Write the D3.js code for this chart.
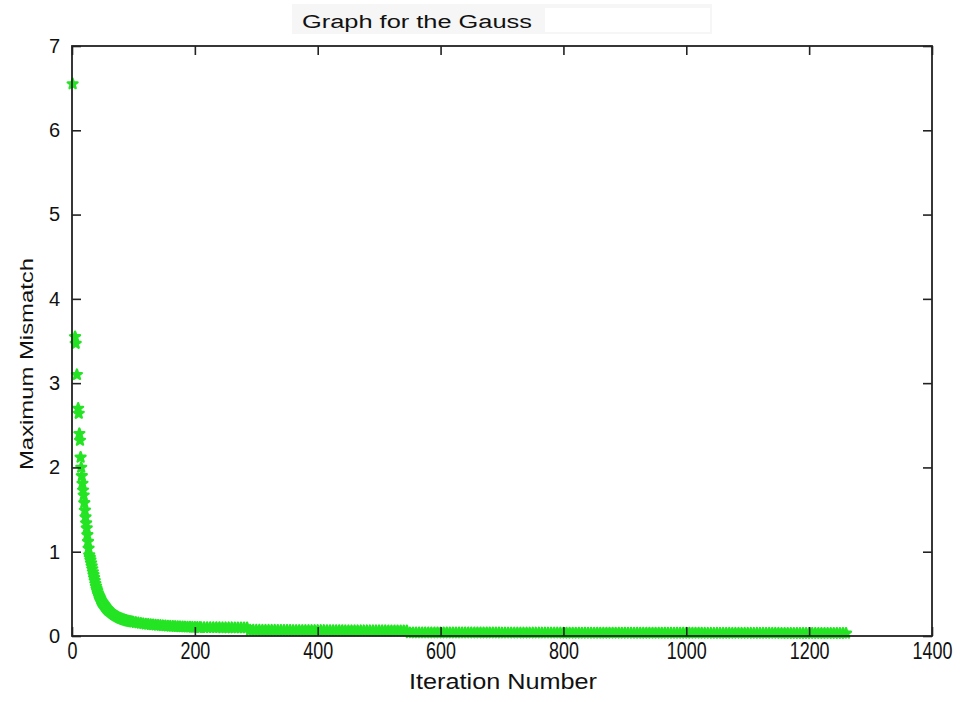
<!DOCTYPE html>
<html>
<head>
<meta charset="utf-8">
<script src="https://cdn.jsdelivr.net/npm/d3@7"></script>
<style>
  html, body { margin: 0; padding: 0; background: #fff; }
  svg text { font-family: "Liberation Sans", Arial, sans-serif; fill: #111; }
</style>
</head>
<body>
<svg id="chart" width="972" height="702"></svg>
<script>
// ---- data ----
const titleText = "Graph for the Gauss";
const xLabel = "Iteration Number";
const yLabel = "Maximum Mismatch";
const xTicks = [0, 200, 400, 600, 800, 1000, 1200, 1400];
const yTicks = [0, 1, 2, 3, 4, 5, 6, 7];

const iterations = [
  1, 5, 6, 8, 10, 11, 12, 13, 14, 15, 16, 17, 18, 19, 20, 21, 22, 23, 24, 25, 26, 27,
  28, 29, 30, 31, 32, 33, 34, 35, 36, 37, 38, 39, 40, 41, 42, 43, 44, 45, 46, 47, 48, 49, 50,
  51, 52, 53, 54, 55, 56, 57, 58, 59, 60,
  62, 64, 66, 68, 70, 72, 74, 76, 78, 80, 82, 84, 86, 88, 90, 92, 94, 96, 98, 100,
  104, 108, 112, 116, 120, 124, 128, 132, 136, 140, 144, 148, 152, 156, 160, 164, 168, 172, 176, 180,
  184, 188, 192, 196, 200, 204, 208,
  210, 215, 220, 225, 230, 235, 240, 245, 250, 255, 260, 265, 270, 275, 280, 285,
  290, 295, 300, 305, 310, 315, 320, 325, 330, 335, 340, 345, 350, 355, 360, 365, 370, 375, 380, 385,
  390, 395, 400, 405, 410, 415, 420, 425, 430, 435, 440, 445, 450, 455, 460, 465, 470, 475, 480, 485,
  490, 495, 500, 505, 510, 515, 520, 525, 530, 535, 540, 545,
  550, 555, 560, 565, 570, 575, 580, 585, 590, 595, 600, 605, 610, 615, 620, 625, 630, 635, 640, 645,
  650, 655, 660, 665, 670, 675, 680, 685, 690, 695, 700, 705, 710, 715, 720, 725, 730, 735, 740, 745,
  750, 755, 760, 765, 770, 775, 780, 785, 790, 795, 800, 805, 810, 815, 820, 825, 830, 835, 840, 845,
  850, 855, 860, 865, 870, 875, 880, 885, 890, 895, 900, 905, 910, 915, 920, 925, 930, 935, 940, 945,
  950, 955, 960, 965, 970, 975, 980, 985, 990, 995, 1000, 1005, 1010, 1015, 1020, 1025, 1030, 1035, 1040, 1045,
  1050, 1055, 1060, 1065, 1070, 1075, 1080, 1085, 1090, 1095, 1100, 1105, 1110, 1115, 1120, 1125, 1130, 1135, 1140, 1145,
  1150, 1155, 1160, 1165, 1170, 1175, 1180, 1185, 1190, 1195, 1200, 1205, 1210, 1215, 1220, 1225, 1230, 1235, 1240, 1245,
  1250, 1255, 1260
];
const mismatch = [
  6.55, 3.55, 3.47, 3.1, 2.7, 2.64, 2.4, 2.32, 2.12, 2.0, 1.9, 1.81, 1.73, 1.67, 1.58, 1.49, 1.41, 1.34, 1.28, 1.2, 1.12, 1.04,
  0.96, 0.93, 0.9, 0.865, 0.83, 0.795, 0.76, 0.725, 0.69, 0.655, 0.62, 0.59, 0.56, 0.535, 0.51, 0.49, 0.475, 0.46, 0.44, 0.425, 0.41, 0.4, 0.39,
  0.38, 0.37, 0.36, 0.35, 0.34, 0.33, 0.322, 0.315, 0.307, 0.3,
  0.288, 0.276, 0.265, 0.255, 0.245, 0.237, 0.228, 0.22, 0.213, 0.207, 0.2, 0.195, 0.19, 0.185, 0.18, 0.177, 0.174, 0.171, 0.168, 0.165,
  0.16, 0.155, 0.15, 0.146, 0.142, 0.139, 0.136, 0.133, 0.13, 0.127, 0.125, 0.122, 0.12, 0.118, 0.116, 0.114, 0.113, 0.111, 0.11, 0.108,
  0.107, 0.106, 0.105, 0.104, 0.103, 0.102, 0.101,
  0.1, 0.1, 0.1, 0.099, 0.099, 0.099, 0.099, 0.098, 0.098, 0.098, 0.098, 0.097, 0.097, 0.097, 0.097, 0.097,
  0.069, 0.069, 0.069, 0.069, 0.068, 0.068, 0.068, 0.068, 0.068, 0.067, 0.067, 0.067, 0.067, 0.067, 0.066, 0.066, 0.066, 0.066, 0.066, 0.065,
  0.065, 0.065, 0.065, 0.065, 0.065, 0.064, 0.064, 0.064, 0.064, 0.064, 0.064, 0.063, 0.063, 0.063, 0.063, 0.063, 0.063, 0.063, 0.062, 0.062,
  0.062, 0.062, 0.062, 0.062, 0.062, 0.061, 0.061, 0.061, 0.061, 0.061, 0.061, 0.061,
  0.038, 0.038, 0.038, 0.038, 0.038, 0.038, 0.038, 0.038, 0.038, 0.038, 0.038, 0.038, 0.037, 0.037, 0.037, 0.037, 0.037, 0.037, 0.037, 0.037,
  0.037, 0.037, 0.037, 0.037, 0.037, 0.037, 0.037, 0.037, 0.037, 0.037, 0.036, 0.036, 0.036, 0.036, 0.036, 0.036, 0.036, 0.036, 0.036, 0.036,
  0.036, 0.036, 0.036, 0.036, 0.036, 0.036, 0.036, 0.036, 0.036, 0.036, 0.035, 0.035, 0.035, 0.035, 0.035, 0.035, 0.035, 0.035, 0.035, 0.035,
  0.035, 0.035, 0.035, 0.035, 0.035, 0.035, 0.035, 0.035, 0.035, 0.035, 0.035, 0.035, 0.034, 0.034, 0.034, 0.034, 0.034, 0.034, 0.034, 0.034,
  0.034, 0.034, 0.034, 0.034, 0.034, 0.034, 0.034, 0.034, 0.034, 0.034, 0.034, 0.034, 0.034, 0.034, 0.034, 0.034, 0.033, 0.033, 0.033, 0.033,
  0.033, 0.033, 0.033, 0.033, 0.033, 0.033, 0.033, 0.033, 0.033, 0.033, 0.033, 0.033, 0.033, 0.033, 0.033, 0.033, 0.033, 0.033, 0.033, 0.033,
  0.033, 0.032, 0.032, 0.032, 0.032, 0.032, 0.032, 0.032, 0.032, 0.032, 0.032, 0.032, 0.032, 0.032, 0.032, 0.032, 0.032, 0.032, 0.032, 0.032,
  0.032, 0.032, 0.032
];

// ---- layout ----
const L = 72, R = 932, T = 46, B = 636;
const svg = d3.select("#chart");

const x = d3.scaleLinear().domain([0, 1400]).range([L, R]);
const y = d3.scaleLinear().domain([0, 7]).range([B, T]);

const pts = iterations.map((it, i) => ({ it, v: mismatch[i] }));

// markers
const star = d3.symbol().type(d3.symbolStar).size(30);
svg.append("g")
  .selectAll("path")
  .data(pts)
  .join("path")
  .attr("d", star)
  .attr("transform", d => `translate(${x(d.it)},${y(d.v)})`)
  .attr("fill", "#24e424")
  .attr("stroke", "#24e424")
  .attr("stroke-width", 2.4)
  .attr("stroke-linejoin", "round");

// axes
const tick = 9;
const gB = svg.append("g").attr("transform", `translate(0,${B})`)
  .call(d3.axisBottom(x).tickValues(xTicks).tickSizeInner(-tick).tickSizeOuter(0).tickPadding(7).tickFormat(d3.format("d")));
const gT = svg.append("g").attr("transform", `translate(0,${T})`)
  .call(d3.axisTop(x).tickValues(xTicks).tickSizeInner(-tick).tickSizeOuter(0).tickFormat(""));
const gL = svg.append("g").attr("transform", `translate(${L},0)`)
  .call(d3.axisLeft(y).tickValues(yTicks).tickSizeInner(-tick).tickSizeOuter(0).tickPadding(12).tickFormat(d3.format("d")));
const gR = svg.append("g").attr("transform", `translate(${R},0)`)
  .call(d3.axisRight(y).tickValues(yTicks).tickSizeInner(-tick).tickSizeOuter(0).tickFormat(""));

[gB, gT, gL, gR].forEach(g => {
  g.select(".domain").remove();
  g.selectAll(".tick line").attr("stroke", "#222").attr("stroke-width", 1.6);
});

gB.selectAll(".tick text")
  .attr("font-size", 23)
  .attr("transform", "scale(0.78,1)")
  .attr("fill", "#111");
gL.selectAll(".tick text")
  .attr("font-size", 20)
  .attr("fill", "#111");

// frame
svg.append("rect")
  .attr("x", L).attr("y", T)
  .attr("width", R - L).attr("height", B - T)
  .attr("fill", "none")
  .attr("stroke", "#222")
  .attr("stroke-width", 1.8);

// title (with faint background strip like the reference)
svg.append("rect").attr("x", 292).attr("y", 4).attr("width", 420).attr("height", 30).attr("fill", "#f6f6f6");
svg.append("rect").attr("x", 545).attr("y", 8).attr("width", 165).attr("height", 24).attr("fill", "#ffffff");
svg.append("text")
  .attr("x", 302).attr("y", 28)
  .attr("font-size", 18)
  .attr("textLength", 230)
  .attr("lengthAdjust", "spacingAndGlyphs")
  .text(titleText);

// x label
svg.append("text")
  .attr("x", 503).attr("y", 689)
  .attr("text-anchor", "middle")
  .attr("font-size", 22)
  .attr("textLength", 188)
  .attr("lengthAdjust", "spacingAndGlyphs")
  .text(xLabel);

// y label
svg.append("text")
  .attr("transform", "translate(33,364) rotate(-90)")
  .attr("text-anchor", "middle")
  .attr("font-size", 18)
  .attr("textLength", 212)
  .attr("lengthAdjust", "spacingAndGlyphs")
  .text(yLabel);
</script>
</body>
</html>
